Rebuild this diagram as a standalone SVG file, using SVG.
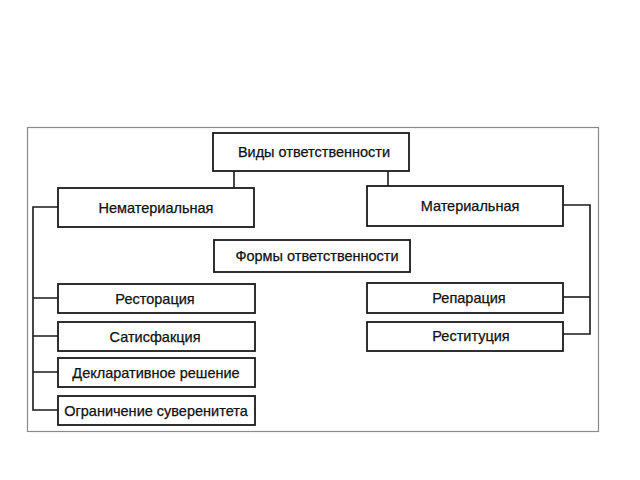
<svg xmlns="http://www.w3.org/2000/svg" width="640" height="480" viewBox="0 0 640 480">
<style>
.box{fill:#fff;stroke:#1a1a1a;stroke-width:1.8}
.t{font-family:"Liberation Sans",Arial,sans-serif;font-size:14.5px;fill:#111;stroke:#111;stroke-width:0.25;text-anchor:middle;dominant-baseline:central}
.c{fill:none;stroke:#1a1a1a;stroke-width:1.6}
</style>
<rect x="0" y="0" width="640" height="480" fill="#fff"/>
<rect x="27.5" y="127.5" width="571" height="304" fill="none" stroke="#8a8a8a" stroke-width="1.2"/>
<g id="connectors">
<path class="c" d="M234 171V188"/>
<path class="c" d="M388 171V186"/>
<path class="c" d="M58 207H33V410H58"/>
<path class="c" d="M33 298H58M33 336H58M33 372H58"/>
<path class="c" d="M563 205H590V334H563"/>
<path class="c" d="M563 297H590"/>
</g>
<g id="vidy"><rect class="box" x="213" y="133" width="196" height="38"/><text class="t" x="314" y="152">Виды ответственности</text></g>
<g id="nemat"><rect class="box" x="58" y="188" width="196" height="39"/><text class="t" x="156" y="208">Нематериальная</text></g>
<g id="mat"><rect class="box" x="367" y="186" width="196" height="40"/><text class="t" x="470" y="206">Материальная</text></g>
<g id="formy"><rect class="box" x="214" y="240" width="196" height="32"/><text class="t" x="317" y="256">Формы ответственности</text></g>
<g id="restor"><rect class="box" x="58" y="284" width="197" height="29"/><text class="t" x="155" y="298.5">Ресторация</text></g>
<g id="satis"><rect class="box" x="58" y="322" width="197" height="29"/><text class="t" x="155" y="336.5">Сатисфакция</text></g>
<g id="deklar"><rect class="box" x="58" y="358" width="197" height="29"/><text class="t" x="156" y="372.5">Декларативное решение</text></g>
<g id="ogran"><rect class="box" x="58" y="396" width="197" height="29"/><text class="t" x="156" y="410.5">Ограничение суверенитета</text></g>
<g id="repar"><rect class="box" x="367" y="283" width="196" height="30"/><text class="t" x="469" y="297.5">Репарация</text></g>
<g id="restit"><rect class="box" x="367" y="322" width="196" height="29"/><text class="t" x="471" y="336">Реституция</text></g>
</svg>
